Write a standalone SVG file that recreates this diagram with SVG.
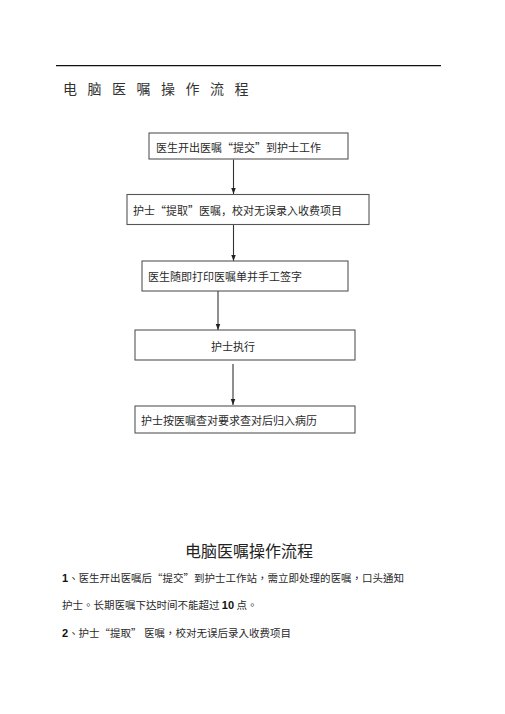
<svg xmlns="http://www.w3.org/2000/svg" width="505" height="714" viewBox="0 0 505 714">
<style>
.box{fill:#fff;stroke:#555;stroke-width:1.1}
.bt{font-family:"Noto Sans CJK SC","Liberation Serif",sans-serif;font-size:11px;fill:#2a2a2a}
.conn{stroke:#333;stroke-width:1.1;fill:none}
.p{font-family:"Noto Sans CJK TC","Liberation Sans",sans-serif;font-size:10.5px;fill:#2a2a2a}
.d{font-family:"Liberation Sans",sans-serif;font-weight:bold;font-size:11px;fill:#111}
</style>
<defs>
<marker id="arr" markerUnits="userSpaceOnUse" markerWidth="6" markerHeight="8" refX="8" refY="3" orient="auto" viewBox="0 0 8 6">
<path d="M0,0 L8,3 L0,6 Z" fill="#222"/>
</marker>
</defs>
<rect width="505" height="714" fill="#fff"/>
<line x1="56" y1="65.7" x2="441" y2="65.7" stroke="#111" stroke-width="1.2"/>
<text x="63" y="94" font-family="Noto Sans CJK SC,sans-serif" font-size="14" letter-spacing="10.5" fill="#333">电脑医嘱操作流程</text>

<g id="connectors">
<line class="conn" x1="233.5" y1="159.5" x2="233.5" y2="194" marker-end="url(#arr)"/>
<line class="conn" x1="233.5" y1="224.5" x2="233.5" y2="261" marker-end="url(#arr)"/>
<line class="conn" x1="218" y1="291" x2="218" y2="330" marker-end="url(#arr)"/>
<line class="conn" x1="233" y1="364" x2="233" y2="405" marker-end="url(#arr)"/>
</g>

<g id="node1">
<rect class="box" x="149" y="133" width="199" height="26"/>
<text class="bt" x="156" y="152">医生开出医嘱“提交”到护士工作</text>
</g>
<g id="node2">
<rect class="box" x="127" y="194.5" width="242" height="30"/>
<text class="bt" x="133" y="215">护士“提取”医嘱，校对无误录入收费项目</text>
</g>
<g id="node3">
<rect class="box" x="142" y="261" width="206" height="30"/>
<text class="bt" x="148" y="281">医生随即打印医嘱单并手工签字</text>
</g>
<g id="node4">
<rect class="box" x="135" y="330" width="220" height="30"/>
<text class="bt" x="211" y="351">护士执行</text>
</g>
<g id="node5">
<rect class="box" x="135" y="406" width="220" height="27"/>
<text class="bt" x="141" y="425">护士按医嘱查对要求查对后归入病历</text>
</g>

<text x="185" y="556.5" font-family="Noto Sans CJK SC,sans-serif" font-size="16" fill="#222">电脑医嘱操作流程</text>
<text class="p" x="62" y="582"><tspan class="d">1</tspan>、医生开出医嘱后“提交”到护士工作站，需立即处理的医嘱，口头通知</text>
<text class="p" x="62" y="608.5">护士。长期医嘱下达时间不能超过 <tspan class="d">10</tspan> 点。</text>
<text class="p" x="62" y="637"><tspan class="d">2</tspan>、护士“提取” 医嘱，校对无误后录入收费项目</text>
</svg>
